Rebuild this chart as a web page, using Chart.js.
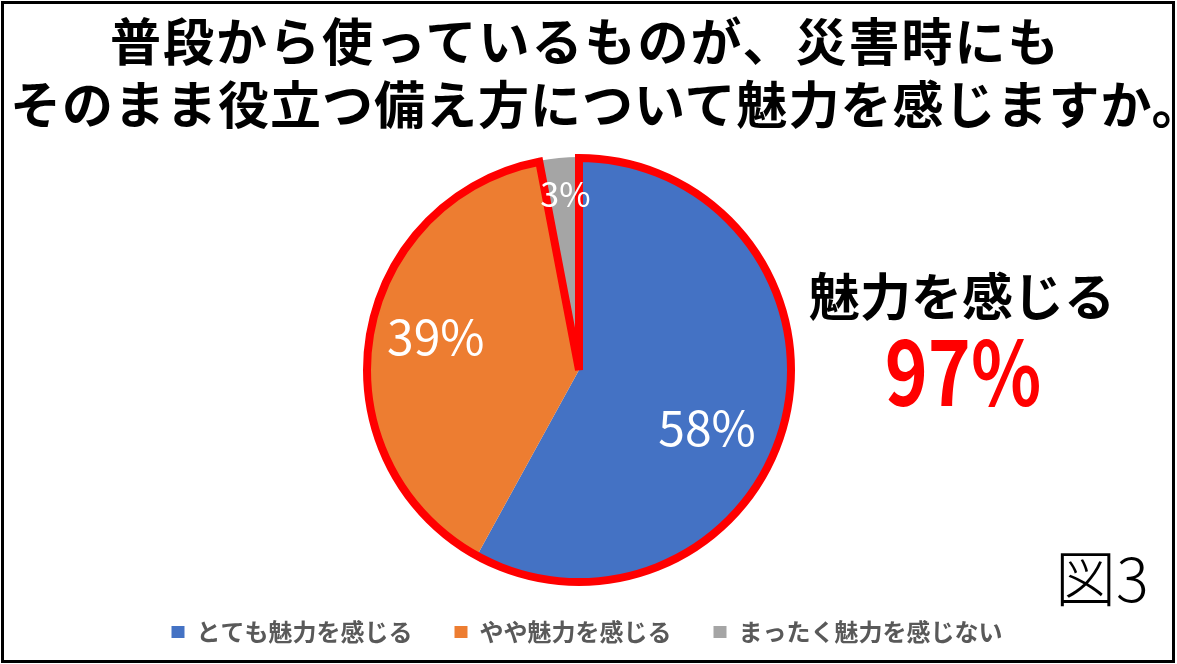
<!DOCTYPE html>
<html lang="ja">
<head>
    <meta charset="UTF-8">
    <title>図3 魅力を感じる</title>
    <script src="https://cdn.jsdelivr.net/npm/chart.js"></script>
    <style>
        body { margin: 0; background: #fff; font-family: "Noto Sans CJK JP", sans-serif; }
        #wrap { position: relative; width: 1177px; height: 664px; overflow: hidden; }
        #frame { position: absolute; left: 1px; top: 1px; width: 1174px; height: 662px; box-sizing: border-box; border: 3px solid #000; pointer-events: none; }
        .ttl { position: absolute; white-space: nowrap; font-size: 51px; font-weight: 700; line-height: 63px; color: #000; }
        #t1 { left: 110px; top: 8px; letter-spacing: 2px; }
        #t2 { left: 10px; top: 71px; letter-spacing: 1px; }
        #sub { position: absolute; left: 809px; top: 264px; font-size: 51px; font-weight: 700; color: #000; line-height: 60px; white-space: nowrap; }
        #big { position: absolute; left: 850px; top: 318px; width: 226px; text-align: center; font-size: 89px; font-weight: 700; color: #ff0000; line-height: 100px; transform: scaleX(0.82); }
        #fig { position: absolute; left: 1055px; top: 536px; font-size: 61px; font-weight: 300; color: #000; line-height: 80px; }
    </style>
</head>
<body>
<div id="wrap">
    <canvas id="pieChart" width="1177" height="664"></canvas>
    <div class="ttl" id="t1">普段から使っているものが、災害時にも</div>
    <div class="ttl" id="t2">そのまま役立つ備え方について魅力を感じますか。</div>
    <div id="sub">魅力を感じる</div>
    <div id="big">97%</div>
    <div id="fig">図3</div>
    <div id="frame"></div>
</div>

<script>
    // データ
    const categories = ['とても魅力を感じる', 'やや魅力を感じる', 'まったく魅力を感じない'];
    const shares = [58, 39, 3];
    const sliceColors = ['#4472C4', '#ED7D31', '#A5A5A5'];

    // 「魅力を感じる」部分の赤い枠
    const redOutline = {
        id: 'redOutline',
        afterDatasetsDraw(chart) {
            const ctx = chart.ctx;
            const meta = chart.getDatasetMeta(0);
            const a = meta.data[0].getProps(['x', 'y', 'startAngle', 'outerRadius'], true);
            const b = meta.data[1].getProps(['endAngle'], true);
            ctx.save();
            ctx.strokeStyle = '#ff0000';
            ctx.lineWidth = 8;
            ctx.lineJoin = 'miter';
            ctx.beginPath();
            ctx.moveTo(a.x, a.y);
            ctx.arc(a.x, a.y, a.outerRadius - 1, a.startAngle, b.endAngle);
            ctx.closePath();
            ctx.stroke();
            ctx.restore();
        }
    };

    // スライス内のラベル
    const sliceLabels = {
        id: 'sliceLabels',
        afterDatasetsDraw(chart, args, opts) {
            const ctx = chart.ctx;
            const meta = chart.getDatasetMeta(0);
            meta.data.forEach((arc, i) => {
                const p = arc.getProps(['x', 'y', 'startAngle', 'endAngle', 'outerRadius'], true);
                const mid = (p.startAngle + p.endAngle) / 2 + opts.angleShift[i] * Math.PI / 180;
                const r = p.outerRadius * opts.radius[i];
                ctx.save();
                ctx.fillStyle = '#fff';
                ctx.font = opts.size[i] + 'px "Noto Sans CJK JP"';
                ctx.textAlign = 'center';
                ctx.textBaseline = 'middle';
                ctx.fillText(shares[i] + '%', p.x + Math.cos(mid) * r, p.y + Math.sin(mid) * r);
                ctx.restore();
            });
        }
    };

    // 凡例を少し右へ
    const legendShift = {
        id: 'legendShift',
        afterLayout(chart) {
            chart.legend.left += 8;
            chart.legend.right += 8;
        }
    };

    new Chart(document.getElementById('pieChart'), {
        type: 'pie',
        data: {
            labels: categories,
            datasets: [{
                data: shares,
                backgroundColor: sliceColors,
                borderWidth: 0,
                hoverBorderWidth: 0,
                hoverOffset: 0,
                radius: 213
            }]
        },
        options: {
            responsive: false,
            animation: false,
            events: [],
            layout: { padding: { left: 0, right: 19, top: 162, bottom: 10 } },
            plugins: {
                tooltip: { enabled: false },
                legend: {
                    position: 'bottom',
                    labels: {
                        boxWidth: 13,
                        boxHeight: 12,
                        padding: 42,
                        color: '#595959',
                        font: { family: '"Noto Sans CJK JP"', size: 24, weight: 'bold' }
                    }
                },
                sliceLabels: {
                    radius: [0.66, 0.69, 0.83],
                    angleShift: [10, 4, 1],
                    size: [48, 48, 34]
                }
            }
        },
        plugins: [redOutline, sliceLabels, legendShift]
    });
</script>
</body>
</html>
